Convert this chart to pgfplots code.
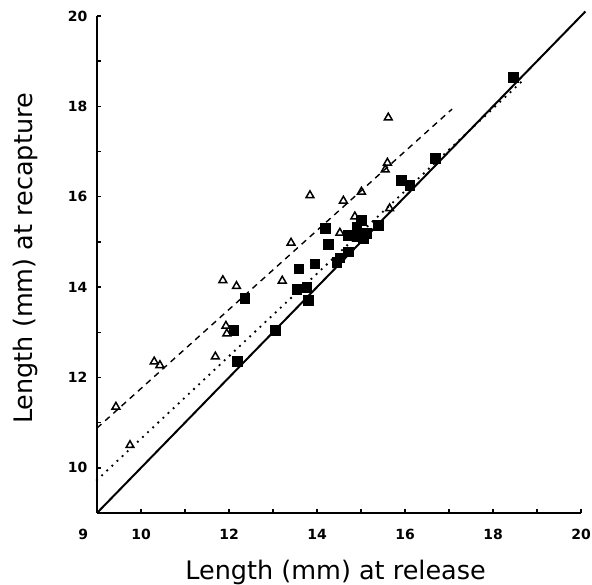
\documentclass[border=0pt]{standalone}
\usepackage{fontspec}
\setmainfont{DejaVu Sans}
\usepackage{pgfplots}
\pgfplotsset{compat=1.18}
\newcommand{\tl}[1]{{\fontsize{14}{15}\selectfont\bfseries #1}}
\begin{document}
\begin{tikzpicture}
\useasboundingbox (-97pt,-72pt) rectangle (495pt,513pt);
\begin{axis}[
  scale only axis,
  width=484pt, height=497pt,
  xmin=9, xmax=20, ymin=9, ymax=20,
  axis x line=bottom, axis y line=left,
  axis line style={-, line width=1.8pt},
  clip=false,
  xtick={9,10,...,20},
  xticklabels={\llap{\tl{9}\hspace{9pt}},\tl{10},,\tl{12},,\tl{14},,\tl{16},,\tl{18},,\tl{20}},
  ytick={9,10,...,20},
  yticklabels={,\tl{10},,\tl{12},,\tl{14},,\tl{16},,\tl{18},,\tl{20}},
  tick align=inside,
  major tick length=4pt,
  tick style={line width=1.4pt, black},
  xticklabel style={yshift=-13pt},
  yticklabel style={xshift=-6pt},
  xlabel={Length (mm) at release},
  ylabel={Length (mm) at recapture},
  label style={font=\fontsize{25.5}{27}\selectfont},
  xlabel style={at={([yshift=-67pt]axis description cs:0.493,0)}, anchor=base},
  ylabel style={at={([xshift=-64pt]axis description cs:0,0.512)}, anchor=base, rotate=0},
]
% lines
\addplot[black, line width=2pt] coordinates {(9,9) (20.1,20.1)};
\addplot[black, line width=1.4pt, dash pattern=on 6pt off 5pt] coordinates {(9,10.88) (17.07,17.94)};
\addplot[black, line width=2.6pt, dash pattern=on 0pt off 7pt, line cap=round] coordinates {(9,9.73) (18.73,18.62)};
% open triangles
\addplot[only marks, mark=triangle, mark size=4.5pt, mark options={line width=1.5pt, fill=white, draw=black}] coordinates {
(9.43,11.35) (9.75,10.50) (10.30,12.35) (10.43,12.27) (11.69,12.46)
(11.86,14.15) (12.17,14.02) (11.93,13.14) (11.95,12.97) (13.21,14.14)
(13.41,14.98) (13.84,16.03) (14.52,15.20) (14.60,15.91) (14.86,15.56)
(15.01,16.11) (15.62,17.75) (15.60,16.75) (15.55,16.60) (15.65,15.74)
};
% filled squares
\addplot[only marks, mark=square*, mark size=4.8pt, mark options={fill=black, draw=black}] coordinates {
(12.19,12.36) (12.11,13.05) (12.36,13.75) (13.05,13.05) (13.54,13.95)
(13.77,14.00) (13.80,13.71) (13.58,14.41) (13.95,14.52) (14.19,15.30)
(14.25,14.95) (14.45,14.55) (14.52,14.65) (14.71,14.78) (14.90,15.12)
(14.90,15.34) (15.01,15.48) (15.05,15.08) (15.13,15.19) (15.39,15.37)
(14.70,15.15) (15.92,16.37) (16.11,16.26) (16.68,16.85) (18.46,18.65)
};
\end{axis}
\end{tikzpicture}
\end{document}
